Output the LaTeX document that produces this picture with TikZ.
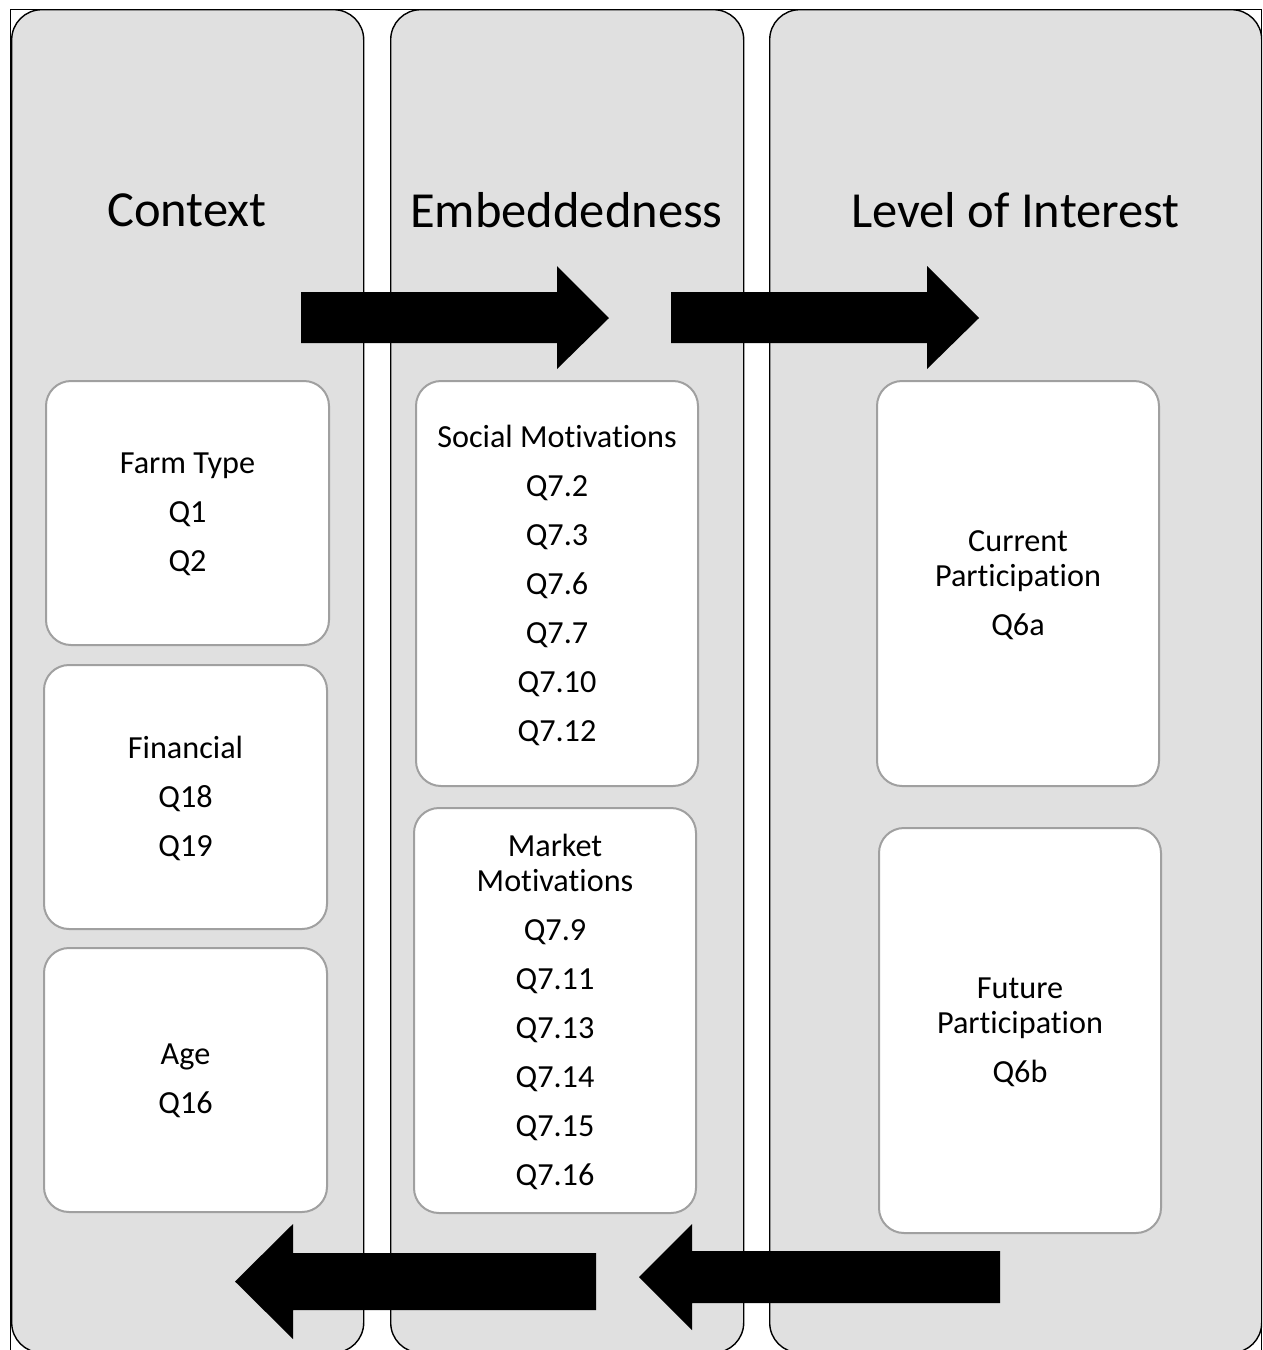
\documentclass[tikz,border=0pt]{standalone}
\usepackage{fontspec}
\setmainfont[Ligatures={NoCommon,NoRequired,NoContextual},Contextuals={NoAlternate}]{Carlito}
\definecolor{colfill}{HTML}{E0E0E0}
\definecolor{boxline}{HTML}{A0A0A0}
\begin{document}
\begin{tikzpicture}[x=1pt,y=-1pt,
  colbox/.style={draw=black, line width=1.4pt, fill=colfill, rounded corners=30pt, inner sep=0pt, anchor=north west, minimum height=1343pt},
  heading/.style={font=\fontsize{50.5}{56}\selectfont, inner sep=0pt},
  qbox/.style={draw=boxline, line width=2pt, fill=white, rounded corners=25pt, align=center, inner sep=0pt, font=\fontsize{32.2}{35}\selectfont},
  qtext/.style={align=center, inner sep=0pt, font=\fontsize{32.2}{35}\selectfont},
  blockarrow/.style={fill=black}]
\clip (0,0) rectangle (1262,1350);
\fill[white] (0,0) rectangle (1262,1350);
% outer frame
\draw[line width=0.9pt] (10.5,9) rectangle (1261,1370);
% columns
\node[colbox, minimum width=352pt] (c1) at (11,9) {};
\node[colbox, minimum width=353pt] (c2) at (390,9) {};
\node[colbox, minimum width=492pt] (c3) at (769,9) {};
% headings
\node[heading] (h1) at (187,210) {Context};
\node[heading] (h2) at (566.5,210) {Embeddedness};
\node[heading] (h3) at (1015.5,210) {Level of Interest};
% top arrows
\fill[blockarrow] (301,292) -- (557,292) -- (557,266) -- (609,318) -- (557,369) -- (557,343) -- (301,343) -- cycle;
\fill[blockarrow] (671,292) -- (927,292) -- (927,266) -- (979,318) -- (927,369) -- (927,343) -- (671,343) -- cycle;
% bottom arrows
\fill[blockarrow] (596,1253) -- (293,1253) -- (293,1224) -- (235,1281.5) -- (293,1339) -- (293,1310) -- (596,1310) -- cycle;
\fill[blockarrow] (1000,1251) -- (692,1251) -- (692,1224) -- (639,1277) -- (692,1330) -- (692,1303) -- (1000,1303) -- cycle;
% context boxes
\node[qbox, minimum width=283pt, minimum height=264pt] (ft) at (187.5,513) {};
\node[qtext] (ftt) at (187.5,514.5) {Farm Type\\[14pt]Q1\\[14pt]Q2};
\node[qbox, minimum width=283pt, minimum height=264pt] (fin) at (185.5,797) {};
\node[qtext] (fint) at (185.5,798.5) {Financial\\[14pt]Q18\\[14pt]Q19};
\node[qbox, minimum width=283pt, minimum height=264pt] (age) at (185.5,1080) {};
\node[qtext] (aget) at (185.5,1081) {Age\\[14pt]Q16};
% embeddedness boxes
\node[qbox, minimum width=282pt, minimum height=405pt] (soc) at (557,583.5) {};
\node[qtext] (soct) at (557,585) {Social Motivations\\[14pt]Q7.2\\[14pt]Q7.3\\[14pt]Q7.6\\[14pt]Q7.7\\[14pt]Q7.10\\[14pt]Q7.12};
\node[qbox, minimum width=282pt, minimum height=405pt] (mkt) at (555,1010.5) {};
\node[qtext] (mktt) at (555,1012) {Market\\Motivations\\[14pt]Q7.9\\[14pt]Q7.11\\[14pt]Q7.13\\[14pt]Q7.14\\[14pt]Q7.15\\[14pt]Q7.16};
% level of interest boxes
\node[qbox, minimum width=282pt, minimum height=405pt] (cur) at (1018,583.5) {};
\node[qtext] (curt) at (1018,585.5) {Current\\Participation\\[14pt]Q6a};
\node[qbox, minimum width=282pt, minimum height=405pt] (fut) at (1020,1030.5) {};
\node[qtext] (futt) at (1020,1032.5) {Future\\Participation\\[14pt]Q6b};
\end{tikzpicture}
\end{document}
